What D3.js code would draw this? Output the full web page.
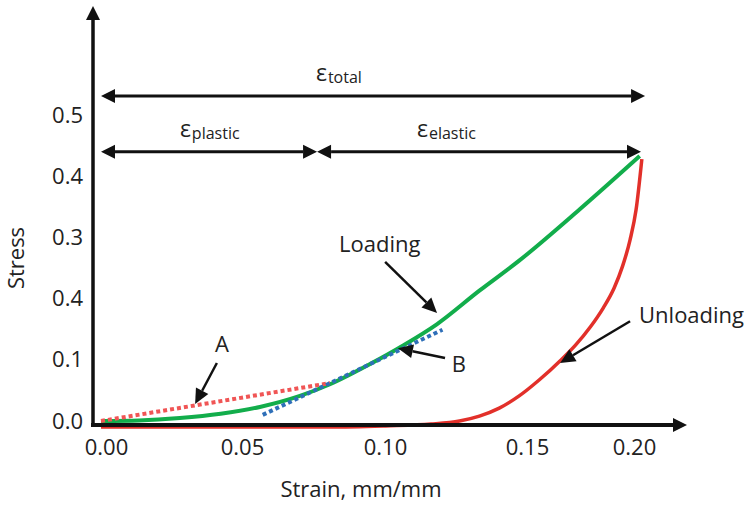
<!DOCTYPE html>
<html>
<head>
<meta charset="utf-8">
<script src="https://cdn.jsdelivr.net/npm/d3@7"></script>
<style>
  body { margin: 0; background: #fff; }
  svg { display: block; font-family: "Open Sans", sans-serif; }
</style>
</head>
<body>
<div id="chart"></div>
<script>
// values
const xTicks = [0, 0.05, 0.10, 0.15, 0.20];
const xTickLabels = ["0.00", "0.05", "0.10", "0.15", "0.20"];
const yTicks = [0, 0.1, 0.2, 0.3, 0.4, 0.5];
const yTickLabels = ["0.0", "0.1", "0.4", "0.3", "0.4", "0.5"];

const loadingStrain = [0, 0.014, 0.029, 0.044, 0.058, 0.072, 0.0825, 0.0965, 0.108, 0.120, 0.135, 0.149, 0.177, 0.205];
const loadingStress = [0, 0.001, 0.005, 0.012, 0.023, 0.041, 0.060, 0.093, 0.123, 0.158, 0.213, 0.262, 0.346, 0.433];

const unloadingStrain = [0, 0.0825, 0.102, 0.118, 0.128, 0.135, 0.142, 0.149, 0.158, 0.168, 0.175, 0.182, 0.188, 0.193, 0.197, 0.2005, 0.2033, 0.206];
const unloadingStress = [-0.010, -0.010, -0.008, -0.005, 0.000, 0.008, 0.021, 0.041, 0.067, 0.099, 0.124, 0.154, 0.185, 0.217, 0.253, 0.296, 0.345, 0.428];

const tangentAStrain = [0, 0.0825];
const tangentAStress = [0, 0.062];
const tangentBStrain = [0.059, 0.122];
const tangentBStress = [0.010, 0.149];

// strain ranges marked above the curves
const totalRange = [0, 0.2075];
const plasticRange = [0, 0.078];
const elasticRange = [0.078, 0.2056];

const width = 749, height = 505;
const ink = "#111";

const svg = d3.select("#chart").append("svg")
    .attr("width", width)
    .attr("height", height);

const x = d3.scaleLinear().domain(xTicks).range([101, 237, 380, 522, 629]);
const y = d3.scaleLinear().domain([0, 0.5]).range([421, 115]);

const axisX = x(0) - 8,
  axisY = y(0) + 4;

const zip = (xs, ys) => xs.map((d, i) => [d, ys[i]]);
const line = d3.line()
    .x(d => x(d[0]))
    .y(d => y(d[1]))
    .curve(d3.curveMonotoneX);
const straight = d3.line()
    .x(d => x(d[0]))
    .y(d => y(d[1]));

function head(g, x1, y1, x2, y2, len, half) {
  const a = Math.atan2(y2 - y1, x2 - x1),
    bx = x2 - len * Math.cos(a),
    by = y2 - len * Math.sin(a),
    nx = -Math.sin(a) * half,
    ny = Math.cos(a) * half;
  g.append("path")
      .attr("d", `M${x2},${y2}L${bx + nx},${by + ny}L${bx - nx},${by - ny}Z`)
      .attr("fill", ink);
  return [bx, by];
}

function arrow(g, x1, y1, x2, y2, w, len, half) {
  const b = head(g, x1, y1, x2, y2, len, half);
  g.append("line")
      .attr("x1", x1).attr("y1", y1)
      .attr("x2", b[0]).attr("y2", b[1])
      .attr("stroke", ink)
      .attr("stroke-width", w);
}

function doubleArrow(g, s1, s2, v) {
  const x1 = x(s1), x2 = x(s2), yy = y(v);
  const b1 = head(g, x2, yy, x1, yy, 14, 7);
  const b2 = head(g, x1, yy, x2, yy, 14, 7);
  g.append("line")
      .attr("x1", b1[0]).attr("y1", yy)
      .attr("x2", b2[0]).attr("y2", yy)
      .attr("stroke", ink)
      .attr("stroke-width", 3);
}

// unloading curve sits under the axis line
svg.append("path")
    .attr("d", line(zip(unloadingStrain, unloadingStress)))
    .attr("fill", "none")
    .attr("stroke", "#e2302a")
    .attr("stroke-width", 3.5);

// axes
const axes = svg.append("g");
axes.append("line")
    .attr("x1", axisX).attr("y1", axisY + 2)
    .attr("x2", axisX).attr("y2", 18)
    .attr("stroke", ink).attr("stroke-width", 3.5);
head(axes, axisX, axisY, axisX, 6, 14, 7);
axes.append("line")
    .attr("x1", axisX - 2).attr("y1", axisY)
    .attr("x2", 675).attr("y2", axisY)
    .attr("stroke", ink).attr("stroke-width", 4);
head(axes, axisX, axisY, 687, axisY, 14, 7);

svg.append("g")
    .attr("transform", `translate(${axisX},0)`)
    .call(d3.axisLeft(y).tickValues(yTicks).tickSize(0).tickPadding(10)
      .tickFormat((d, i) => yTickLabels[i]))
    .call(g => g.select(".domain").remove())
    .attr("font-family", null)
    .attr("font-size", 22)
    .selectAll("text").attr("fill", "#222");

svg.append("g")
    .attr("transform", `translate(0,${axisY})`)
    .call(d3.axisBottom(x).tickValues(xTicks).tickSize(0).tickPadding(14)
      .tickFormat((d, i) => xTickLabels[i]))
    .call(g => g.select(".domain").remove())
    .attr("font-family", null)
    .attr("font-size", 22)
    .selectAll("text").attr("fill", "#222").attr("dx", 5);

svg.append("text")
    .attr("x", 361).attr("y", 497)
    .attr("text-anchor", "middle")
    .attr("font-size", 22).attr("fill", "#222")
    .text("Strain, mm/mm");

svg.append("text")
    .attr("transform", "translate(24,258) rotate(-90)")
    .attr("text-anchor", "middle")
    .attr("font-size", 22).attr("fill", "#222")
    .text("Stress");

// loading curve and tangents
svg.append("path")
    .attr("d", line(zip(loadingStrain, loadingStress)))
    .attr("fill", "none")
    .attr("stroke", "#12ad4b")
    .attr("stroke-width", 4);

svg.append("path")
    .attr("d", straight(zip(tangentAStrain, tangentAStress)))
    .attr("fill", "none")
    .attr("stroke", "#f05555")
    .attr("stroke-width", 4)
    .attr("stroke-dasharray", "4,3");

svg.append("path")
    .attr("d", straight(zip(tangentBStrain, tangentBStress)))
    .attr("fill", "none")
    .attr("stroke", "#2e6fb8")
    .attr("stroke-width", 4)
    .attr("stroke-dasharray", "4,3");

// strain range arrows
const notes = svg.append("g");
doubleArrow(notes, totalRange[0], totalRange[1], 0.531);
doubleArrow(notes, plasticRange[0], plasticRange[1], 0.440);
doubleArrow(notes, elasticRange[0], elasticRange[1], 0.440);

const epsLabels = [
  {sub: "total", s: 0.0776, v: 0.556},
  {sub: "plastic", s: 0.029, v: 0.464},
  {sub: "elastic", s: 0.113, v: 0.464}
];
epsLabels.forEach(d => {
  const t = notes.append("text")
      .attr("x", x(d.s)).attr("y", y(d.v))
      .attr("fill", "#222");
  t.append("tspan").attr("font-size", 23).text("ε");
  t.append("tspan").attr("font-size", 16).attr("dy", 2).attr("dx", 1).text(d.sub);
});

// pointer labels
const pointers = [
  {text: "Loading", anchor: "start", s: 0.0857, v: 0.276, from: [0.1018, 0.260], to: [0.1201, 0.1765]},
  {text: "Unloading", anchor: "start", s: 0.2047, v: 0.160, from: [0.2005, 0.163], to: [0.1678, 0.0948]},
  {text: "A", anchor: "middle", s: 0.0445, v: 0.113, from: [0.0426, 0.0948], to: [0.0346, 0.0278]},
  {text: "B", anchor: "middle", s: 0.1278, v: 0.080, from: [0.1229, 0.1029], to: [0.1063, 0.119]}
];
pointers.forEach(d => {
  notes.append("text")
      .attr("x", x(d.s)).attr("y", y(d.v))
      .attr("text-anchor", d.anchor)
      .attr("font-size", 22).attr("fill", "#222")
      .text(d.text);
  arrow(notes, x(d.from[0]), y(d.from[1]), x(d.to[0]), y(d.to[1]), 2.5, 15, 7);
});
</script>
</body>
</html>
